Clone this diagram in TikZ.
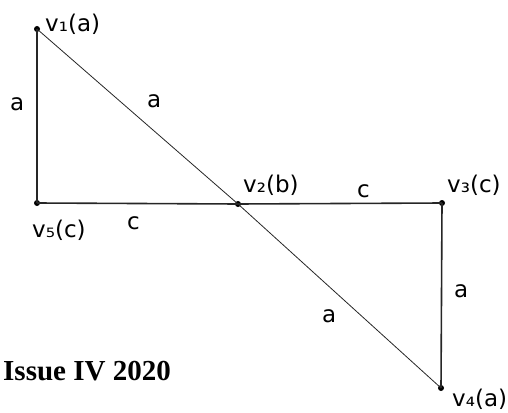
\documentclass[tikz,border=0pt]{standalone}
\usepackage{fontspec}
\setmainfont{DejaVu Sans}
\newfontfamily\issuefont{Liberation Serif}
\usetikzlibrary{positioning, calc}
\tikzset{
  vtx/.style={circle, fill=black, inner sep=0pt, minimum size=6pt},
  lbl/.style={font=\fontsize{23}{27}\selectfont, inner sep=0pt, anchor=base west},
  issue/.style={font=\issuefont\bfseries\fontsize{29}{34}\selectfont, inner sep=0pt, anchor=base west},
  edge/.style={line width=1.6pt, color=black!85},
  diag/.style={line width=0.8pt, color=black!85}
}

\begin{document}
\begin{tikzpicture}[x=1pt, y=-1pt]
  \useasboundingbox (0,0) rectangle (508,412);
  % vertices
  \node[vtx] (v1) at (37,29)  {};
  \node[vtx] (v5) at (37,203) {};
  \node[vtx] (v2) at (238,204) {};
  \node[vtx] (v3) at (442,203) {};
  \node[vtx] (v4) at (441,388) {};
  % edges
  \draw[edge] (v1.center) -- (v5.center);
  \draw[edge] (v5.center) -- (v2.center);
  \draw[edge] (v2.center) -- (v3.center);
  \draw[edge] (v3.center) -- (v4.center);
  \draw[diag] (v1.center) -- (v2.center);
  \draw[diag] (v2.center) -- (v4.center);
  % vertex labels
  \node[lbl] (l1) at ($(v1)+(8,3)$)   {v₁(a)};
  \node[lbl] (l2) at ($(v2)+(5,-12)$) {v₂(b)};
  \node[lbl] (l3) at ($(v3)+(5,-11)$) {v₃(c)};
  \node[lbl] (l4) at ($(v4)+(11,18)$) {v₄(a)};
  \node[lbl] (l5) at ($(v5)+(-5,34)$) {v₅(c)};
  % edge labels
  \node[lbl] (e15) at (10,110)  {a};
  \node[lbl] (e12) at (147,107) {a};
  \node[lbl] (e52) at (127,229) {c};
  \node[lbl] (e23) at (357,197) {c};
  \node[lbl] (e34) at (454,297) {a};
  \node[lbl] (e24) at (322,322) {a};
  % footer
  \node[issue] (iss) at (3,380) {Issue IV 2020};
\end{tikzpicture}
\end{document}
